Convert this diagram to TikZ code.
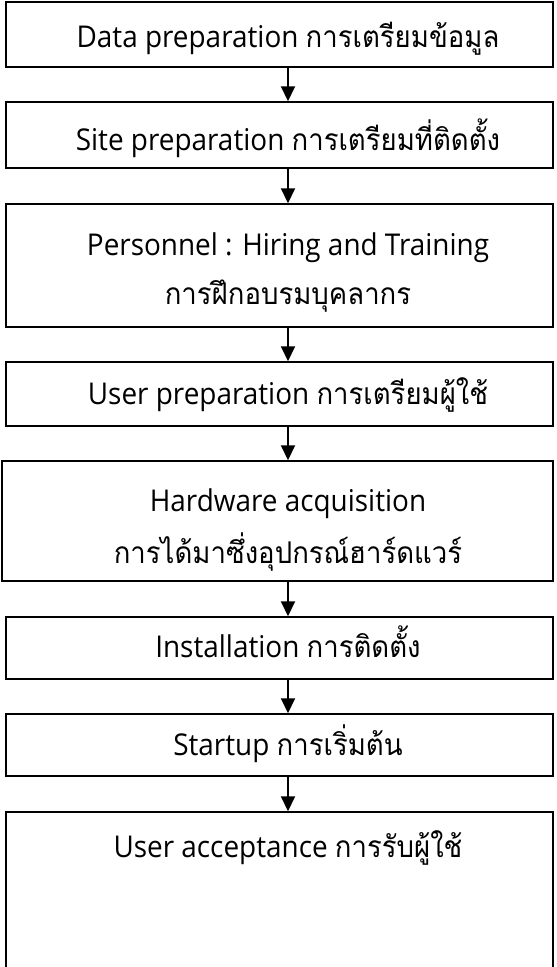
\documentclass[tikz,border=0pt]{standalone}
\usepackage{fontspec}
\setmainfont[FakeStretch=0.93]{Open Sans}
\newfontfamily\thaifnt[Script=Thai,Scale=MatchLowercase,FakeStretch=0.92]{Loma}
\newcommand\thtxt[1]{{\fontsize{29}{34}\selectfont\thaifnt #1}}
\usetikzlibrary{arrows.meta}
\begin{document}
\begin{tikzpicture}[x=1pt,y=-1pt,
  box/.style={draw, line width=1.5pt, inner sep=0pt, minimum width=547pt},
  lbl/.style={inner sep=0pt, anchor=base, font=\fontsize{30}{35}\selectfont},
  arr/.style={line width=2pt, -{Triangle[width=14pt,length=15pt]}}]
\useasboundingbox (0,0) rectangle (557,967);
\clip (0,0) rectangle (557,967);
\fill[white] (0,0) rectangle (557,967);
% boxes
\node[box, minimum height=65pt] (b1) at (279.5,34.5) {};
\node[box, minimum height=66pt] (b2) at (279.5,135) {};
\node[box, minimum height=123pt] (b3) at (279.5,265.5) {};
\node[box, minimum height=64pt] (b4) at (279.5,394) {};
\node[box, minimum height=120pt, minimum width=551pt] (b5) at (277.5,521) {};
\node[box, minimum height=62pt] (b6) at (279.5,648) {};
\node[box, minimum height=62pt] (b7) at (279.5,745) {};
\node[box, minimum height=200pt] (b8) at (279.5,912) {};
% labels
\node[lbl] (t1) at (288,47) {Data preparation \thtxt{การเตรียมข้อมูล}};
\node[lbl] (t2) at (288,150) {Site preparation \thtxt{การเตรียมที่ติดตั้ง}};
\node[lbl] (t3a) at (288,255) {Personnel : Hiring and Training};
\node[lbl] (t3b) at (288,304) {\thtxt{การฝึกอบรมบุคลากร}};
\node[lbl] (t4) at (288,404) {User preparation \thtxt{การเตรียมผู้ใช้}};
\node[lbl] (t5a) at (288,511) {Hardware acquisition};
\node[lbl] (t5b) at (288,563) {\thtxt{การได้มาซึ่งอุปกรณ์ฮาร์ดแวร์}};
\node[lbl] (t6) at (288,657) {Installation \thtxt{การติดตั้ง}};
\node[lbl] (t7) at (288,755) {Startup \thtxt{การเริ่มต้น}};
\node[lbl] (t8) at (288,857) {User acceptance \thtxt{การรับผู้ใช้}};
% arrows
\draw[arr] (b1.south -| t1.base) -- (b2.north -| t1.base);
\draw[arr] (b2.south -| t2.base) -- (b3.north -| t2.base);
\draw[arr] (b3.south -| t3b.base) -- (b4.north -| t3b.base);
\draw[arr] (b4.south -| t4.base) -- (b5.north -| t4.base);
\draw[arr] (b5.south -| t5b.base) -- (b6.north -| t5b.base);
\draw[arr] (b6.south -| t6.base) -- (b7.north -| t6.base);
\draw[arr] (b7.south -| t7.base) -- (b8.north -| t7.base);
\end{tikzpicture}
\end{document}
